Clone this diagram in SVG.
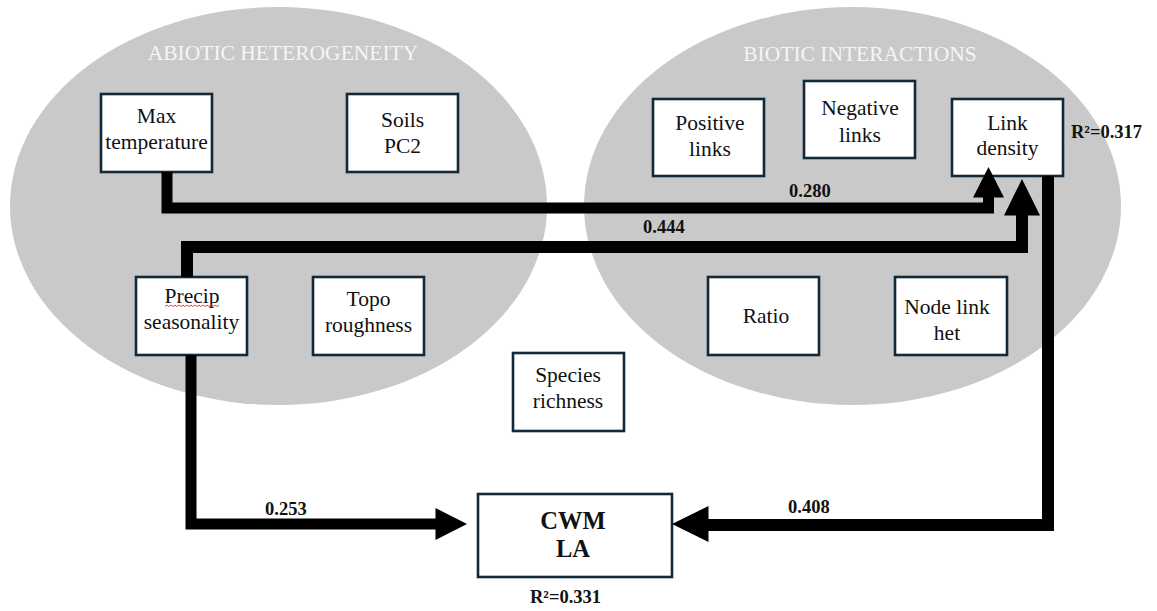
<svg xmlns="http://www.w3.org/2000/svg" width="1157" height="611" viewBox="0 0 1157 611">
  <style>
    .zone { fill: #c9c9c9; }
    .zone-label { font-family: "Liberation Serif", "Times New Roman", serif; font-size: 21.5px; fill: #f5f5f5; text-anchor: middle; }
    .box { fill: #ffffff; stroke: #12293a; stroke-width: 2.6; }
    .lbl { font-family: "Liberation Serif", "Times New Roman", serif; font-size: 21.5px; fill: #111111; text-anchor: middle; }
    .lbl-bold { font-family: "Liberation Serif", "Times New Roman", serif; font-size: 24.5px; font-weight: bold; fill: #111111; text-anchor: middle; }
    .coef { font-family: "Liberation Serif", "Times New Roman", serif; font-size: 18.5px; font-weight: bold; fill: #111111; }
    .path { fill: none; stroke: #000000; stroke-linejoin: miter; stroke-linecap: butt; }
    .head { fill: #000000; }
    .squiggle { fill: none; stroke: #e03030; stroke-width: 0.9; }
  </style>

  <!-- background -->
  <rect width="1157" height="611" fill="#ffffff"/>

  <!-- grouping zones -->
  <g id="zone-abiotic">
    <ellipse class="zone" cx="278.5" cy="206" rx="268.5" ry="199"/>
    <text class="zone-label" x="283" y="60">ABIOTIC HETEROGENEITY</text>
  </g>
  <g id="zone-biotic">
    <ellipse class="zone" cx="852.5" cy="206" rx="268.5" ry="199"/>
    <text class="zone-label" x="860" y="61">BIOTIC INTERACTIONS</text>
  </g>

  <!-- variables -->
  <g id="node-max-temperature">
    <rect class="box" x="101" y="94" width="111" height="78"/>
    <text class="lbl" x="156.5" y="123">Max</text>
    <text class="lbl" x="156.5" y="149">temperature</text>
  </g>
  <g id="node-soils-pc2">
    <rect class="box" x="347" y="94" width="111" height="78"/>
    <text class="lbl" x="402.5" y="127">Soils</text>
    <text class="lbl" x="402.5" y="153">PC2</text>
  </g>
  <g id="node-precip-seasonality">
    <rect class="box" x="136" y="277" width="111" height="78"/>
    <text class="lbl" x="192" y="303">Precip</text>
    <path class="squiggle" d="M165 306.5 l2 -1.5 l2 1.5 l2 -1.5 l2 1.5 l2 -1.5 l2 1.5 l2 -1.5 l2 1.5 l2 -1.5 l2 1.5 l2 -1.5 l2 1.5 l2 -1.5 l2 1.5 l2 -1.5 l2 1.5 l2 -1.5 l2 1.5 l2 -1.5 l2 1.5 l2 -1.5 l2 1.5 l2 -1.5 l2 1.5 l2 -1.5 l2 1.5 l2 -1.5"/>
    <text class="lbl" x="191.5" y="329">seasonality</text>
  </g>
  <g id="node-topo-roughness">
    <rect class="box" x="313" y="277" width="111" height="78"/>
    <text class="lbl" x="368.5" y="306">Topo</text>
    <text class="lbl" x="368.5" y="332">roughness</text>
  </g>
  <g id="node-species-richness">
    <rect class="box" x="513" y="353" width="111" height="78"/>
    <text class="lbl" x="568" y="382">Species</text>
    <text class="lbl" x="568" y="408">richness</text>
  </g>
  <g id="node-positive-links">
    <rect class="box" x="653" y="99" width="111" height="77"/>
    <text class="lbl" x="710" y="130">Positive</text>
    <text class="lbl" x="710" y="156">links</text>
  </g>
  <g id="node-negative-links">
    <rect class="box" x="804" y="81" width="111" height="77"/>
    <text class="lbl" x="860" y="115">Negative</text>
    <text class="lbl" x="860" y="142">links</text>
  </g>
  <g id="node-link-density">
    <rect class="box" x="952" y="99" width="111" height="77"/>
    <text class="lbl" x="1007.5" y="130">Link</text>
    <text class="lbl" x="1007.5" y="155">density</text>
  </g>
  <g id="node-ratio">
    <rect class="box" x="708" y="277" width="111" height="78"/>
    <text class="lbl" x="766" y="323">Ratio</text>
  </g>
  <g id="node-node-link-het">
    <rect class="box" x="895" y="277" width="112" height="78"/>
    <text class="lbl" x="947" y="314">Node link</text>
    <text class="lbl" x="947" y="340">het</text>
  </g>
  <g id="node-cwm-la">
    <rect class="box" x="478" y="494" width="194" height="83"/>
    <text class="lbl-bold" x="573" y="529">CWM</text>
    <text class="lbl-bold" x="573" y="557">LA</text>
  </g>

  <!-- explained variance -->
  <g id="r2-labels">
    <text class="coef" x="1071" y="138">R²=0.317</text>
    <text class="coef" x="530" y="603">R²=0.331</text>
  </g>

  <!-- path connectors with standardized coefficients -->
  <g id="connectors">
    <path class="path" stroke-width="11" d="M167 172 V208 H988.5 V197"/>
    <polygon class="head" points="973,197.5 988.5,167 1004,197.5"/>

    <path class="path" stroke-width="12" d="M187 277 V247 H1022 V215"/>
    <polygon class="head" points="1004,215.5 1022,179 1040,215.5"/>

    <path class="path" stroke-width="11" d="M191 355 V524 H436"/>
    <polygon class="head" points="435.5,508 467,524 435.5,540"/>

    <path class="path" stroke-width="12" d="M1048 176 V525 H708"/>
    <polygon class="head" points="708.5,506 672,524 708.5,542"/>

    <text class="coef" x="789" y="197">0.280</text>
    <text class="coef" x="643" y="233">0.444</text>
    <text class="coef" x="265" y="515">0.253</text>
    <text class="coef" x="788" y="513">0.408</text>
  </g>
</svg>
